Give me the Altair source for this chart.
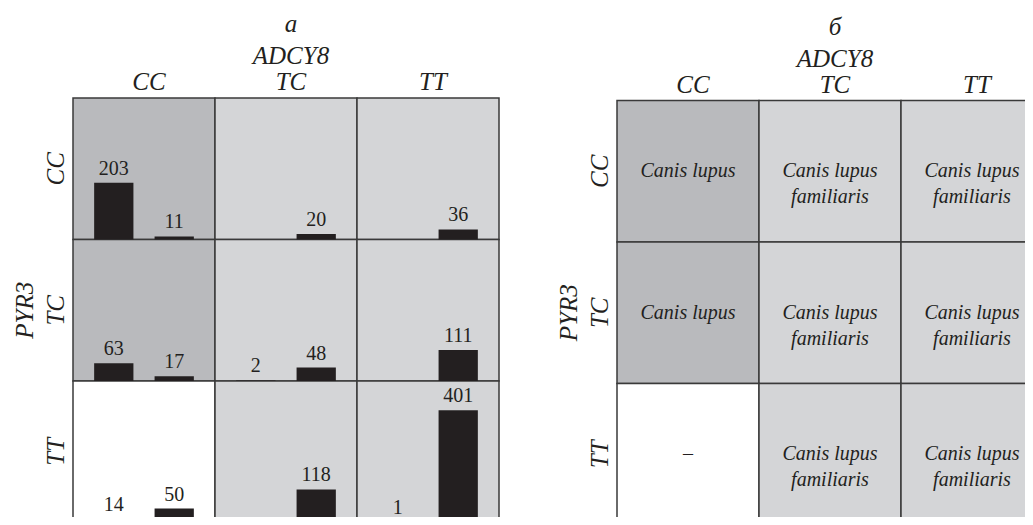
import altair as alt
import pandas as pd

# ---------------- data ----------------
GENOTYPES = ["CC", "TC", "TT"]
PANEL_LETTERS = ["а", "б"]
COL_GENE = "ADCY8"
ROW_GENE = "PYR3"

# rows = PYR3 genotype, columns = ADCY8 genotype
WOLF_COUNTS = [[203, 0, 0], [63, 2, 0], [14, 0, 1]]
DOG_COUNTS = [[11, 20, 36], [17, 48, 111], [50, 118, 401]]
CELL_SHADES = [["dark", "light", "light"],
               ["dark", "light", "light"],
               ["none", "light", "light"]]
CELL_SPECIES = [
    ["Canis lupus", "Canis lupus\nfamiliaris", "Canis lupus\nfamiliaris"],
    ["Canis lupus", "Canis lupus\nfamiliaris", "Canis lupus\nfamiliaris"],
    ["–", "Canis lupus\nfamiliaris", "Canis lupus\nfamiliaris"],
]

# ---------------- layout / style ----------------
W, H = 1017, 509
CELL_W, CELL_H = 142.0, 141.5
ORIGIN_X_PX, ORIGIN_Y_PX = 65.0, 90.0
PANEL_X0 = [0.0, 3 + 118 / CELL_W]
PANEL_Y0 = [0.0, 2.5 / CELL_H]
PX_PER_COUNT = 0.28
COUNTS_PER_ROW = CELL_H / PX_PER_COUNT
PAD = 0.35
STEP = 1 / (2 + PAD)
BAND = STEP * (1 - PAD)
SHADE_COLORS = {"dark": "#b9babd", "light": "#d4d5d7", "none": "#ffffff"}
INK = "#231f20"
FONT = "Liberation Serif"

x_scale = alt.Scale(domain=[-ORIGIN_X_PX / CELL_W, (W - ORIGIN_X_PX) / CELL_W], nice=False, zero=False)
y_scale = alt.Scale(domain=[-ORIGIN_Y_PX / CELL_H, (H - ORIGIN_Y_PX) / CELL_H], nice=False, zero=False, reverse=True)

cells, bars, species, colhdr, rowhdr, titles = [], [], [], [], [], []
for p in range(2):
    x0, y0 = PANEL_X0[p], PANEL_Y0[p]
    for r in range(3):
        for c in range(3):
            cells.append(dict(x=x0 + c, x2=x0 + c + 1, y=y0 + r, y2=y0 + r + 1,
                              fill=SHADE_COLORS[CELL_SHADES[r][c]]))
            if p == 0:
                for i, cnt in enumerate([WOLF_COUNTS[r][c], DOG_COUNTS[r][c]]):
                    if cnt > 0:
                        bx = x0 + c + PAD * STEP + i * STEP
                        bars.append(dict(x=bx, x2=bx + BAND, xm=bx + BAND / 2,
                                         y=y0 + r + 1, y2=y0 + r + 1 - cnt / COUNTS_PER_ROW,
                                         label=str(cnt)))
            else:
                species.append(dict(x=x0 + c + 0.5, y=y0 + r + 0.5, text=CELL_SPECIES[r][c]))
        rowhdr.append(dict(x=x0 - 9 / CELL_W, y=y0 + r + 0.5, text=GENOTYPES[r]))
    for c in range(3):
        colhdr.append(dict(x=x0 + c + 0.5, y=y0 - 8 / CELL_H, text=GENOTYPES[c]))
    titles.append(dict(x=x0 + 1.5, y=y0 - 34 / CELL_H, text=COL_GENE))
    titles.append(dict(x=x0 + 1.5, y=y0 - 66 / CELL_H, text=PANEL_LETTERS[p]))
    rowhdr.append(dict(x=x0 - 40 / CELL_W, y=y0 + 1.5, text=ROW_GENE))

X = lambda f="x": alt.X(f"{f}:Q", scale=x_scale, axis=None)
Y = lambda f="y": alt.Y(f"{f}:Q", scale=y_scale, axis=None)

cell_layer = alt.Chart(pd.DataFrame(cells)).mark_rect(
    stroke="#3a3a3a", strokeWidth=1.5, clip=True
).encode(x=X(), x2="x2:Q", y=Y(), y2="y2:Q", fill=alt.Fill("fill:N", scale=None))

bar_layer = alt.Chart(pd.DataFrame(bars)).mark_rect(
    color=INK, clip=True
).encode(x=X(), x2="x2:Q", y=Y(), y2="y2:Q")

bar_text = alt.Chart(pd.DataFrame(bars)).mark_text(
    font=FONT, fontSize=20, color=INK, baseline="alphabetic", align="center", dy=-8
).encode(x=X("xm"), y=Y("y2"), text="label:N")

species_text = alt.Chart(pd.DataFrame(species)).mark_text(
    font=FONT, fontSize=20, fontStyle="italic", color=INK, baseline="middle", align="center",
    lineBreak="\n", lineHeight=26, clip=True
).encode(x=X(), y=Y(), text="text:N")

col_text = alt.Chart(pd.DataFrame(colhdr + titles)).mark_text(
    font=FONT, fontSize=25, fontStyle="italic", color=INK, baseline="alphabetic", align="center", dx=5
).encode(x=X(), y=Y(), text="text:N")

row_text = alt.Chart(pd.DataFrame(rowhdr)).mark_text(
    font=FONT, fontSize=25, fontStyle="italic", color=INK, baseline="alphabetic", align="center", angle=270
).encode(x=X(), y=Y(), text="text:N")

chart = alt.layer(cell_layer, bar_layer, bar_text, species_text, col_text, row_text).properties(
    width=W, height=H, padding=0, autosize=alt.AutoSizeParams(type="none"), background="white"
).configure_view(stroke=None)

chart.save("out.html", embed_options={"renderer": "svg", "actions": False})
